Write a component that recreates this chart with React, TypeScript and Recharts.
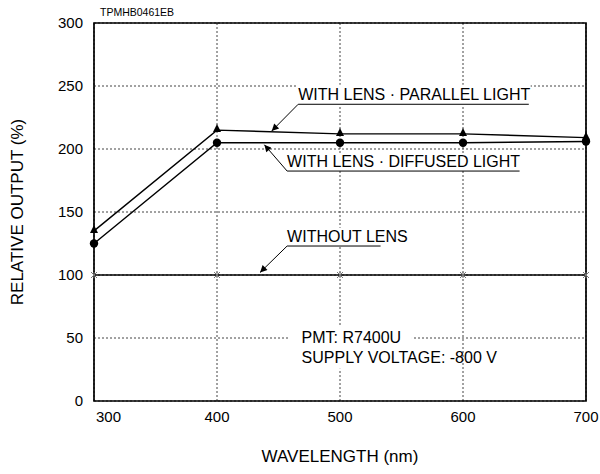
import {
  LineChart,
  Line,
  XAxis,
  YAxis,
  CartesianGrid,
  ReferenceArea,
  ReferenceLine,
} from 'recharts';

const WAVELENGTHS = [300, 400, 500, 600, 700];
const PARALLEL_LIGHT = [135, 215, 212, 212, 209];
const DIFFUSED_LIGHT = [125, 205, 205, 205, 206];
const WITHOUT_LENS = [100, 100, 100, 100, 100];

const X_TICKS = [300, 400, 500, 600, 700];
const Y_TICKS = [0, 50, 100, 150, 200, 250, 300];

// callouts: underline start/end and arrow tip, in data units
const CALLOUTS = [
  { text: 'WITH LENS · PARALLEL LIGHT', from: [466, 235.5], to: [653.5, 235.5], tip: [444.5, 214.3] },
  { text: 'WITH LENS · DIFFUSED LIGHT', from: [457, 182.5], to: [646, 182.5], tip: [438.5, 203.4] },
  { text: 'WITHOUT LENS', from: [457, 123], to: [533, 123], tip: [435, 102] },
];

const NOTE_LINES = ['PMT: R7400U', 'SUPPLY VOLTAGE: -800 V'];

const data = WAVELENGTHS.map((w, i) => ({
  wl: w,
  parallel: PARALLEL_LIGHT[i],
  diffused: DIFFUSED_LIGHT[i],
  none: WITHOUT_LENS[i],
}));

const FONT = 'Liberation Sans, Arial, Helvetica, sans-serif';

const Triangle = (props: any) => {
  const { cx, cy, index } = props;
  return <polygon key={`t-${index}`} points={`${cx},${cy - 6} ${cx - 4},${cy + 2} ${cx + 4},${cy + 2}`} fill="#000" />;
};

const Circle = (props: any) => {
  const { cx, cy, index } = props;
  return <circle key={`c-${index}`} cx={cx} cy={cy} r={4.2} fill="#000" />;
};

const Star = (props: any) => {
  const { cx, cy, index } = props;
  const s = 3;
  return (
    <g key={`s-${index}`} stroke="#777" strokeWidth={1}>
      <line x1={cx - s} y1={cy - s} x2={cx + s} y2={cy + s} />
      <line x1={cx - s} y1={cy + s} x2={cx + s} y2={cy - s} />
      <line x1={cx} y1={cy - s} x2={cx} y2={cy + s} />
    </g>
  );
};

const XTick = (props: any) => {
  const { x, y, payload } = props;
  let anchor = 'middle';
  let dx = 0;
  if (payload.value === 300) {
    anchor = 'start';
    dx = 2;
  }
  return (
    <text x={x + dx} y={y} dy="0.71em" textAnchor={anchor} fontSize={15} fill="#000" fontFamily={FONT}>
      {payload.value}
    </text>
  );
};

const NoteLabel = (props: any) => {
  const vb = props.viewBox || {};
  return (
    <g>
      {NOTE_LINES.map((t, i) => (
        <text key={t} x={vb.x + 12} y={vb.y + 17 + i * 19.5} fontSize={16} fill="#000" fontFamily={FONT}>
          {t}
        </text>
      ))}
    </g>
  );
};

export default function App() {
  return (
    <div style={{ position: 'fixed', left: 0, top: 0, width: 600, height: 474, background: '#fff', fontFamily: FONT }}>
      <LineChart width={600} height={474} data={data} margin={{ top: 23, right: 14, left: 0, bottom: 0 }}>
        <defs>
          <marker id="arrowHead" viewBox="0 0 10 10" refX="10" refY="5" markerWidth="12" markerHeight="7" markerUnits="userSpaceOnUse" orient="auto">
            <path d="M0,0 L10,5 L0,10 z" fill="#000" />
          </marker>
        </defs>
        <CartesianGrid stroke="#444" strokeDasharray="2 2" strokeWidth={1} />
        <XAxis
          dataKey="wl"
          type="number"
          domain={[300, 700]}
          ticks={X_TICKS}
          height={73}
          tick={<XTick />}
          tickLine={false}
          tickMargin={4}
          axisLine={false}
          label={{ value: 'WAVELENGTH (nm)', position: 'insideBottom', offset: 12, fontSize: 17, fill: '#000', fontFamily: FONT }}
        />
        <YAxis
          type="number"
          domain={[0, 300]}
          ticks={Y_TICKS}
          width={94}
          tickLine={false}
          tickMargin={5}
          axisLine={false}
          tick={{ fontSize: 15, fill: '#000', fontFamily: FONT }}
        />
        {/* white boxes behind the callout texts */}
        <ReferenceArea x1={465} x2={655} y1={234.5} y2={251} fill="#fff" fillOpacity={1} stroke="none" />
        <ReferenceArea x1={456} x2={648} y1={182.8} y2={196.5} fill="#fff" fillOpacity={1} stroke="none" />
        <ReferenceArea x1={456} x2={535} y1={123.5} y2={137.5} fill="#fff" fillOpacity={1} stroke="none" />
        <ReferenceArea
          x1={459}
          x2={558.5}
          y1={25.5}
          y2={59.5}
          fill="#fff"
          fillOpacity={1}
          stroke="none"
          label={<NoteLabel />}
        />
        {CALLOUTS.map((c, i) => (
          <ReferenceLine
            key={`u-${i}`}
            segment={[{ x: c.from[0], y: c.from[1] }, { x: c.to[0], y: c.to[1] }]}
            stroke="#000"
            strokeWidth={1}
            label={{ value: c.text, position: 'insideBottomLeft', offset: 0, fontSize: 16, fill: '#000', fontFamily: FONT, dy: -4 } as any}
          />
        ))}
        {CALLOUTS.map((c, i) => (
          <ReferenceLine
            key={`a-${i}`}
            segment={[{ x: c.from[0], y: c.from[1] }, { x: c.tip[0], y: c.tip[1] }]}
            stroke="#000"
            strokeWidth={1}
            markerEnd="url(#arrowHead)"
          />
        ))}
        <ReferenceArea x1={300} x2={700} y1={0} y2={300} fill="none" stroke="#000" strokeWidth={1.7} />
        <Line dataKey="none" stroke="#000" strokeWidth={1.4} dot={<Star />} isAnimationActive={false} />
        <Line dataKey="parallel" stroke="#000" strokeWidth={1.4} dot={<Triangle />} isAnimationActive={false} />
        <Line dataKey="diffused" stroke="#000" strokeWidth={1.4} dot={<Circle />} isAnimationActive={false} />
        <text x={100} y={15.5} fontSize={10.5} fill="#000" fontFamily={FONT}>TPMHB0461EB</text>
        <text x={23} y={212} transform="rotate(-90 23 212)" textAnchor="middle" fontSize={17} fill="#000" fontFamily={FONT}>
          RELATIVE OUTPUT (%)
        </text>
      </LineChart>
    </div>
  );
}
